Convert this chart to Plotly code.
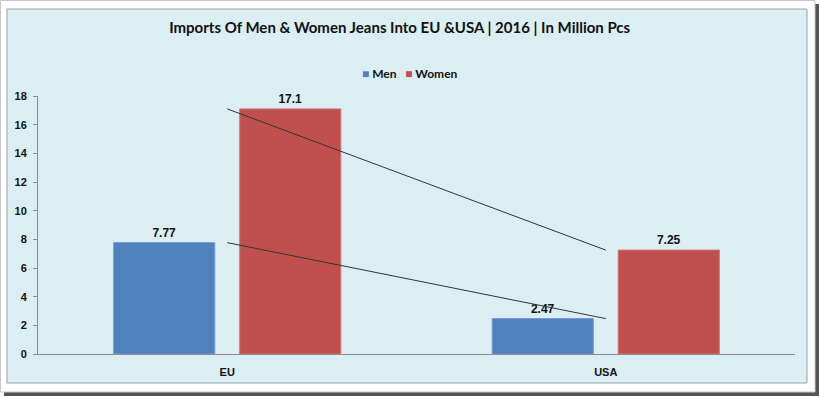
import plotly.graph_objects as go

categories = ["EU", "USA"]
men = [7.77, 2.47]
women = [17.1, 7.25]
men_labels = ["7.77", "2.47"]
women_labels = ["17.1", "7.25"]
y_ticks = [0, 2, 4, 6, 8, 10, 12, 14, 16, 18]

BLUE = "#4F81BD"
RED = "#C0504D"
BG = "#DBEEF3"
TFONT = "Lato, Liberation Sans, Arial, sans-serif"
SANS = "Liberation Sans, Arial, sans-serif"

W, H = 820, 397
L, R, T, B = 38, 25, 96, 43
pw, ph = W - L - R, H - T - B


def px(x):
    return (x - L) / pw


def py(y):
    return (H - B - y) / ph


fig = go.Figure()
fig.add_trace(go.Bar(
    name="Men", x=categories, y=men, marker=dict(color=BLUE, line=dict(color="#6F9BD1", width=1)),
    text=men_labels, textposition="outside", cliponaxis=False,
    textfont=dict(family=SANS, size=12, color="#111111", weight="bold"), showlegend=False,
))
fig.add_trace(go.Bar(
    name="Women", x=categories, y=women, marker=dict(color=RED, line=dict(color="#D07470", width=1)),
    text=women_labels, textposition="outside", cliponaxis=False,
    textfont=dict(family=SANS, size=12, color="#111111", weight="bold"), showlegend=False,
))
fig.add_trace(go.Scatter(x=categories, y=men, mode="lines", line=dict(color="#333333", width=1),
                         showlegend=False, hoverinfo="skip"))
fig.add_trace(go.Scatter(x=categories, y=women, mode="lines", line=dict(color="#333333", width=1),
                         showlegend=False, hoverinfo="skip"))

shapes = [
    # outer frame shadow
    dict(type="rect", xref="paper", yref="paper", x0=px(4), x1=px(819), y0=py(4), y1=py(396),
         fillcolor="#555555", line=dict(width=0), layer="below"),
    dict(type="rect", xref="paper", yref="paper", x0=px(0.5), x1=px(815), y0=py(0.5), y1=py(392),
         fillcolor="white", line=dict(color="#C8C8C8", width=1), layer="below"),
    # chart area
    dict(type="rect", xref="paper", yref="paper", x0=px(7), x1=px(807), y0=py(9), y1=py(383),
         fillcolor=BG, line=dict(color="#A0A0A0", width=1), layer="below"),
]

legend_text = (f"<span style='color:{BLUE}'>■</span> Men   "
               f"<span style='color:{RED}'>■</span> Women")

fig.update_layout(
    width=W, height=H,
    margin=dict(l=L, r=R, t=T, b=B),
    paper_bgcolor="white",
    plot_bgcolor=BG,
    barmode="group",
    bargap=0.334,
    bargroupgap=0.198,
    shapes=shapes,
    showlegend=False,
    title=dict(text="Imports Of Men & Women Jeans Into EU &USA | 2016 | In Million Pcs",
               x=px(407), xanchor="center", y=1 - 28 / H, yanchor="middle",
               font=dict(family=TFONT, size=15, color="#111111", weight="bold")),
    annotations=[dict(text=legend_text, xref="paper", yref="paper", x=px(410), y=py(73),
                      xanchor="center", yanchor="middle", showarrow=False,
                      font=dict(family=TFONT, size=12, color="#111111", weight="bold"))],
    xaxis=dict(showline=True, linecolor="#8C8C8C", linewidth=1, ticks="", showgrid=False,
               ticklabelstandoff=8,
               tickfont=dict(family=SANS, size=11, color="#111111", weight="bold")),
    yaxis=dict(range=[0, 18], tickvals=y_ticks, showline=True, linecolor="#8C8C8C", linewidth=1,
               ticks="outside", ticklen=4, tickcolor="#8C8C8C", showgrid=False, zeroline=False,
               ticklabelstandoff=4,
               tickfont=dict(family=SANS, size=11, color="#111111", weight="bold")),
)

fig.write_html("out.html", config={"displayModeBar": False},
               post_script="document.body.style.margin='0';document.body.style.overflow='hidden';")
